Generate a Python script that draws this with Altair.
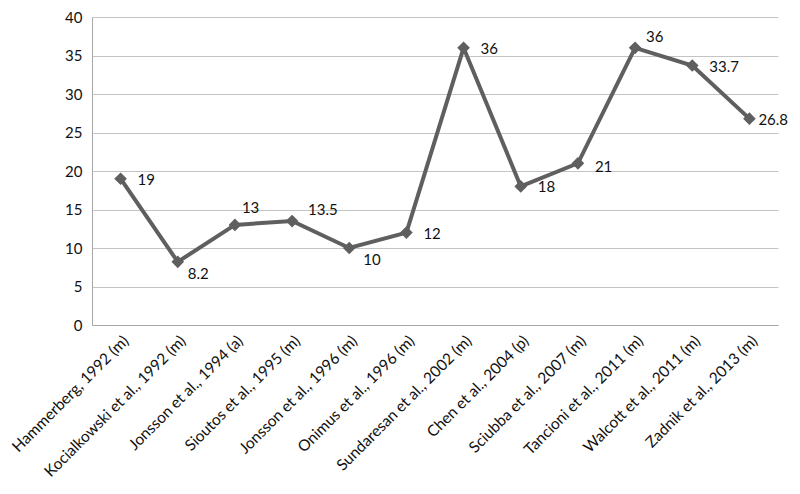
import altair as alt
import pandas as pd

studies = [
    "Hammerberg, 1992 (m)",
    "Kocialkowski et al., 1992 (m)",
    "Jonsson et al., 1994 (a)",
    "Sioutos et al., 1995 (m)",
    "Jonsson et al., 1996 (m)",
    "Onimus et al., 1996 (m)",
    "Sundaresan et al., 2002 (m)",
    "Chen et al., 2004 (p)",
    "Sciubba et al., 2007 (m)",
    "Tancioni et al., 2011 (m)",
    "Walcott et al., 2011 (m)",
    "Zadnik et al., 2013 (m)",
]
values = [19, 8.2, 13, 13.5, 10, 12, 36, 18, 21, 36, 33.7, 26.8]
labels = ["19", "8.2", "13", "13.5", "10", "12", "36", "18", "21", "36", "33.7", "26.8"]

df = pd.DataFrame({"study": studies, "value": values, "label": labels})

FONT = "Lato"
COLOR = "#5f5f5f"

x = alt.X("study:N", sort=studies, title=None,
          scale=alt.Scale(paddingOuter=0.5, paddingInner=0),
          axis=alt.Axis(labelAngle=-45, labelFontSize=15.5, labelFont=FONT,
                        labelColor="#111111", ticks=False, labelPadding=8, grid=False,
                        domainColor="#a8a8a8", labelLimit=300))
y = alt.Y("value:Q", title=None,
          scale=alt.Scale(domain=[0, 40]),
          axis=alt.Axis(values=[0, 5, 10, 15, 20, 25, 30, 35, 40], labelFontSize=15,
                        labelFont=FONT, labelColor="#111111", ticks=False, grid=True,
                        labelPadding=10, gridColor="#c4c4c4", domainColor="#a8a8a8"))

base = alt.Chart(df)
line = base.mark_line(color=COLOR, strokeWidth=4).encode(x=x, y=y)
pts = base.mark_point(shape="diamond", filled=True, color=COLOR, size=160, opacity=1).encode(x=x, y=y)

# label placement groups (offset from marker)
groups = [
    (["Hammerberg, 1992 (m)", "Onimus et al., 1996 (m)", "Sundaresan et al., 2002 (m)",
      "Chen et al., 2004 (p)", "Walcott et al., 2011 (m)"], 17, 1),
    (["Sciubba et al., 2007 (m)"], 17, 4),
    (["Zadnik et al., 2013 (m)"], 9, 1),
    (["Kocialkowski et al., 1992 (m)"], 10, 12),
    (["Jonsson et al., 1996 (m)"], 14, 12),
    (["Jonsson et al., 1994 (a)"], 7, -17),
    (["Sioutos et al., 1995 (m)"], 16, -11),
    (["Tancioni et al., 2011 (m)"], 11, -11),
]
texts = []
for names, dx, dy in groups:
    texts.append(
        base.transform_filter(alt.FieldOneOfPredicate(field="study", oneOf=names))
        .mark_text(align="left", baseline="middle", dx=dx, dy=dy, fontSize=15,
                   font=FONT, color="#111111")
        .encode(x=x, y=y, text="label:N")
    )

chart = alt.layer(line, pts, *texts).properties(
    width=686, height=308,
    autosize=alt.AutoSizeParams(type="none"),
    padding={"left": 84, "top": 9, "right": 14, "bottom": 160},
    background="white",
).configure_view(stroke=None)

chart.save("out.html", embed_options={"renderer": "svg", "actions": False})
